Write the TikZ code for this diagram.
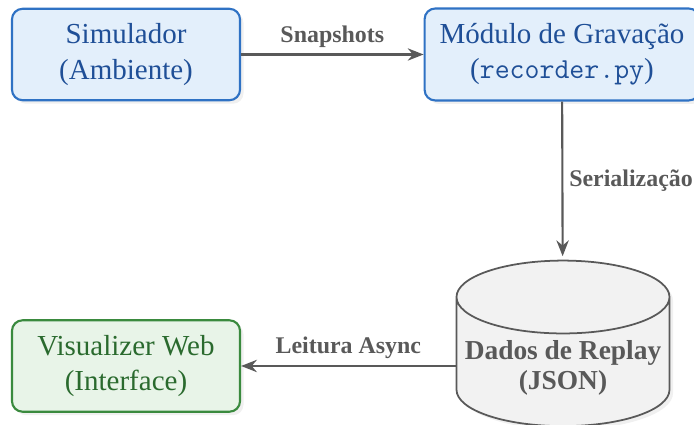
\documentclass[tikz,border=0pt]{standalone}
\usepackage{fontspec}
\setmainfont{Liberation Serif}
\usetikzlibrary{shapes.geometric,shadows,arrows.meta}

\definecolor{simfill}{HTML}{E3EFFB}
\definecolor{simline}{HTML}{2F72C4}
\definecolor{simtext}{HTML}{1F4F97}
\definecolor{webfill}{HTML}{E8F4E8}
\definecolor{webline}{HTML}{3A8A3E}
\definecolor{webtext}{HTML}{2A6A2E}
\definecolor{dbfill}{HTML}{F2F2F2}
\definecolor{edgegray}{HTML}{595959}

\tikzset{
  modbox/.style={draw=simline,fill=simfill,text=simtext,line width=1.2pt,rounded corners=6pt,
    minimum width=4.56cm,minimum height=1.82cm,inner sep=0.3cm,align=center,
    font=\fontsize{16.5}{20}\selectfont,
    drop shadow={opacity=0.12,shadow xshift=2pt,shadow yshift=-2pt}},
  webbox/.style={modbox,draw=webline,fill=webfill,text=webtext},
  dbstore/.style={cylinder,shape border rotate=90,aspect=0.35,draw=edgegray,fill=dbfill,
    text=edgegray,line width=1pt,minimum width=4.26cm,minimum height=3.0cm,align=center,
    font=\fontsize{15.6}{17.5}\selectfont\bfseries,
    drop shadow={opacity=0.12,shadow xshift=2pt,shadow yshift=-2pt}},
  flow/.style={-{Stealth[length=9pt,width=7pt]},draw=edgegray,line width=1.2pt},
  flowlabel/.style={text=edgegray,font=\fontsize{13.6}{16}\selectfont\bfseries}
}

\begin{document}
\begin{tikzpicture}
\useasboundingbox (0,0) rectangle (13.88,-8.5);
\node[modbox] (sim) at (2.52,-1.09) {Simulador\\(Ambiente)};
\node[modbox] (rec) at (11.24,-1.09) {Módulo de Gravação\\(\texttt{recorder.py})};
\node[dbstore] (db) at (11.26,-7.36) {Dados de Replay\\(JSON)};
\node[webbox] (web) at (2.52,-7.32) {Visualizer Web\\(Interface)};

\draw[flow,shorten >=2pt] (rec) -- node[flowlabel,right] {Serialização} (db);
\draw[flow] (sim) -- node[flowlabel,above] {Snapshots} (rec);
\draw[flow] (db.west |- web) -- node[flowlabel,above] {Leitura Async} (web);
\end{tikzpicture}
\end{document}
